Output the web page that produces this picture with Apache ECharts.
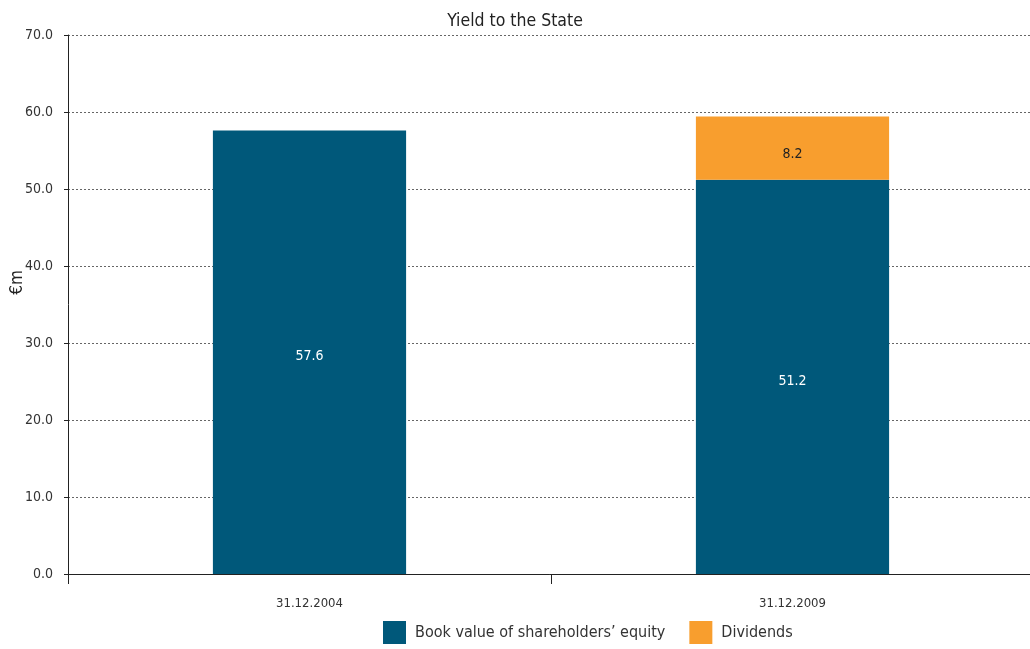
<!DOCTYPE html>
<html>
<head>
<meta charset="utf-8">
<script src="https://cdn.jsdelivr.net/npm/echarts@6/dist/echarts.min.js"></script>
<style>
  html, body { margin: 0; padding: 0; background: #fff; }
  #chart { width: 1030px; height: 649px; }
</style>
</head>
<body>
<div id="chart"></div>
<script>
const categories = ['31.12.2004', '31.12.2009'];
const bookValue = [57.6, 51.2];
const dividends = [null, 8.2];

const font = "'DejaVu Sans Condensed', 'Liberation Sans Narrow', 'Liberation Sans', sans-serif";

const chart = echarts.init(document.getElementById('chart'));
chart.setOption({
  animation: false,
  textStyle: { fontFamily: font },
  title: {
    text: 'Yield to the State',
    left: 'center',
    top: 7,
    textStyle: { fontFamily: font, fontSize: 17.5, fontWeight: 'normal', color: '#222' },
  },
  legend: {
    top: 616,
    left: 378,
    itemWidth: 23,
    itemHeight: 23,
    itemGap: 24,
    icon: 'rect',
    textStyle: { fontFamily: font, fontSize: 16, color: '#333', padding: [0, 0, 0, 4] },
    data: ['Book value of shareholders\u2019 equity', 'Dividends'],
  },
  grid: { left: 68, top: 35, width: 966, height: 539, outerBoundsMode: 'none' },
  xAxis: {
    type: 'category',
    data: categories,
    axisLine: { lineStyle: { color: '#222', width: 1 } },
    axisTick: { show: true, length: 10, lineStyle: { color: '#222' } },
    axisLabel: { fontFamily: font, fontSize: 13, color: '#333', margin: 23 },
  },
  yAxis: {
    type: 'value',
    min: 0,
    max: 70,
    interval: 10,
    name: '\u20acm',
    nameLocation: 'middle',
    nameGap: 42,
    nameMoveOverlap: false,
    nameTextStyle: { fontFamily: font, fontSize: 17, color: '#222', padding: [0, 0, 0, 44] },
    axisLine: { show: true, lineStyle: { color: '#222' } },
    axisTick: { show: true, length: 4, lineStyle: { color: '#222' } },
    axisLabel: {
      fontFamily: font, fontSize: 14, color: '#333', margin: 15,
      formatter: v => v.toFixed(1),
    },
    splitLine: { lineStyle: { color: '#666', type: [2, 2], width: 1 } },
  },
  series: [
    {
      name: 'Book value of shareholders\u2019 equity',
      type: 'bar',
      stack: 'total',
      data: bookValue,
      barWidth: '40%',
      itemStyle: { color: '#00587a' },
      label: {
        show: true, position: 'inside', color: '#fff',
        fontFamily: font, fontSize: 14, offset: [0, 4],
        formatter: p => p.value.toFixed(1),
      },
    },
    {
      name: 'Dividends',
      type: 'bar',
      stack: 'total',
      data: dividends,
      barWidth: '40%',
      itemStyle: { color: '#f89e2e' },
      label: {
        show: true, position: 'inside', color: '#222',
        fontFamily: font, fontSize: 14, offset: [0, 6],
        formatter: p => p.value.toFixed(1),
      },
    },
  ],
});
</script>
</body>
</html>
